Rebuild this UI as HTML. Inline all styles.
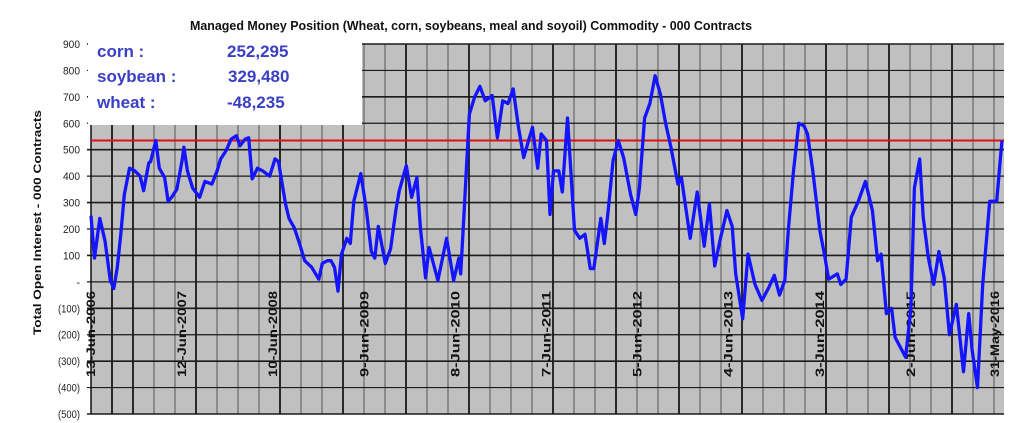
<!DOCTYPE html>
<html><head><meta charset="utf-8">
<style>
html,body{margin:0;padding:0;background:#fff;}
svg{display:block;font-family:"Liberation Sans",Arial,sans-serif;}
</style></head>
<body>
<svg id="chart" width="1024" height="423" viewBox="0 0 1024 423" xmlns="http://www.w3.org/2000/svg">
<text x="190" y="30" font-size="12.5" font-weight="bold" textLength="562" lengthAdjust="spacingAndGlyphs" fill="#111">Managed Money Position  (Wheat, corn, soybeans, meal and soyoil) Commodity - 000 Contracts</text>
<text transform="translate(41,335) rotate(-90)" font-size="11" font-weight="bold" textLength="225" lengthAdjust="spacingAndGlyphs" fill="#111">Total Open Interest - 000 Contracts</text>
<g id="plot"></g>
<g id="box">
<rect x="88" y="36" width="274" height="89" fill="#fff"/>
<text x="97" y="57" font-size="17" font-weight="bold" fill="#3a3fc4">corn :</text>
<text x="227" y="57" font-size="17" font-weight="bold" fill="#3a3fc4">252,295</text>
<text x="97" y="82" font-size="17" font-weight="bold" fill="#3a3fc4">soybean :</text>
<text x="228" y="82" font-size="17" font-weight="bold" fill="#3a3fc4">329,480</text>
<text x="97" y="108" font-size="17" font-weight="bold" fill="#3a3fc4">wheat :</text>
<text x="227" y="108" font-size="17" font-weight="bold" fill="#3a3fc4">-48,235</text>
</g>
<g id="yticks"></g>
</svg>
<script>
const weeks=[0,2,5,8,11,13,15,17,19,22,25,28,30,33,34,37,39,42,44,46,49,52,53,55,58,62,65,69,72,74,77,80,83,85,88,90,92,95,98,102,105,107,111,113,116,119,122,126,130,132,135,
137,139,141,143,146,148,150,154,157,160,162,164,168,171,174,176,180,183,186,188,191,193,198,203,207,210,211,213,215,216,219,222,225,229,232,235,238,241,244,247,250,252,255,257,260,262,264,
267,269,272,274,276,279,282,285,287,291,293,295,298,301,304,308,311,313,316,319,322,325,328,331,335,337,342,346,350,353,356,359,363,366,368,372,375,379,383,387,390,393,396,398,401,404,407,409,412,416,419,421,426,428,431,434,438,442,446,449,451,454,457,459,465,468,470,473,475,478,481,484,487,490,494,498,501,503,506,509,513,517,519,520];
const values=[250,90,240,155,5,-25,55,180,330,430,420,400,345,450,455,535,430,395,305,320,350,460,510,420,355,320,380,370,420,465,495,540,553,515,540,545,390,430,420,400,465,455,295,240,205,145,80,55,10,70,80,
80,55,-35,105,165,145,305,410,280,115,90,210,70,125,270,345,440,320,395,205,15,130,5,165,5,90,30,270,520,635,700,740,685,705,545,685,675,730,585,470,540,585,430,560,535,255,420,
420,340,620,410,195,165,180,50,50,240,145,255,460,535,470,330,255,355,620,675,780,710,600,510,370,395,165,340,135,295,60,155,270,210,30,-140,105,-10,-70,-20,25,-50,5,195,420,600,590,560,420,195,90,10,30,-10,10,245,305,380,270,80,105,-120,-100,-210,-285,-100,355,465,245,90,-10,115,15,-200,-85,-340,-120,-260,-400,-10,305,305,460,535];
const yTickValues=[900,800,700,600,500,400,300,200,100,0,-100,-200,-300,-400,-500];
const yTickLabels=["900","800","700","600","500","400","300","200","100","-","(100)","(200)","(300)","(400)","(500)"];
const dateLabels=["13-Jun-2006","12-Jun-2007","10-Jun-2008","9-Jun-2009","8-Jun-2010","7-Jun-2011","5-Jun-2012","4-Jun-2013","3-Jun-2014","2-Jun-2015","31-May-2016"];
const dateWeeks=[0,52,104,156,208,260,312,364,416,468,520];
const refLevel=535;

const NS="http://www.w3.org/2000/svg";
const X0=91,X1=1002,Y0=44,Y1=414;
function xs(w){return X0+(w/520)*(X1-X0);}
function ys(v){return Y1-(v+500)/1400*(Y1-Y0);}
function mk(tag,attrs,parent){const e=document.createElementNS(NS,tag);for(const k in attrs)e.setAttribute(k,attrs[k]);parent.appendChild(e);return e;}
const plot=document.getElementById('plot');
const bg=mk('rect',{x:X0,y:Y0,width:X1-X0+2,height:Y1-Y0,fill:'#c0c0c0'},plot);


const thick=[1,2,5,9,12,15,18,22,25,28,31,35,38,41];
for(let k=0;k<=43;k++){
  const x=X0+k*21;
  const t=thick.includes(k);
  const ln=mk('line',{x1:x,x2:x,y1:Y0,y2:Y1,stroke:t?'#1a1a1a':'#555',"stroke-width":t?1.8:1},plot);
  
  
}
const yt=document.getElementById('yticks');
yTickValues.forEach((v,i)=>{
  const y=ys(v);
  const ln=mk('line',{x1:X0-4,x2:X1+2,y1:y,y2:y,stroke:'#1a1a1a',"stroke-width":(i%2?1.2:1.6)},plot);
  
  
  const lab=yTickLabels[i];
  const attrs={x:80,y:y+4,"font-size":11,"text-anchor":"end",fill:'#222'};
  if(lab.length>1){attrs.textLength=lab.length>3?22:17;attrs.lengthAdjust='spacingAndGlyphs';}
  const t=mk('text',attrs,yt);
  t.textContent=lab;
  
  
});
const axis=mk('line',{x1:X0,x2:X0,y1:Y0,y2:Y1,stroke:'#111',"stroke-width":1.5},plot);


dateLabels.forEach((s,i)=>{
  const x=xs(dateWeeks[i])+(i==10?-3:4);
  const t=mk('text',{transform:`translate(${x},377) rotate(-90)`,"font-size":11.5,"font-weight":"bold",fill:'#111',textLength:86,lengthAdjust:'spacingAndGlyphs'},plot);
  t.textContent=s;
  
  
});
const ref=mk('line',{x1:X0,x2:X1+2,y1:ys(refLevel),y2:ys(refLevel),stroke:'#e01010',"stroke-width":2},plot);


let d='';
weeks.forEach((w,i)=>{d+=(i?'L':'M')+xs(w).toFixed(1)+','+ys(values[i]).toFixed(1);});
const path=mk('path',{d:d,fill:'none',stroke:'#1414ff',"stroke-width":3.3,"stroke-linejoin":'round'},plot);


</script>
</body></html>
